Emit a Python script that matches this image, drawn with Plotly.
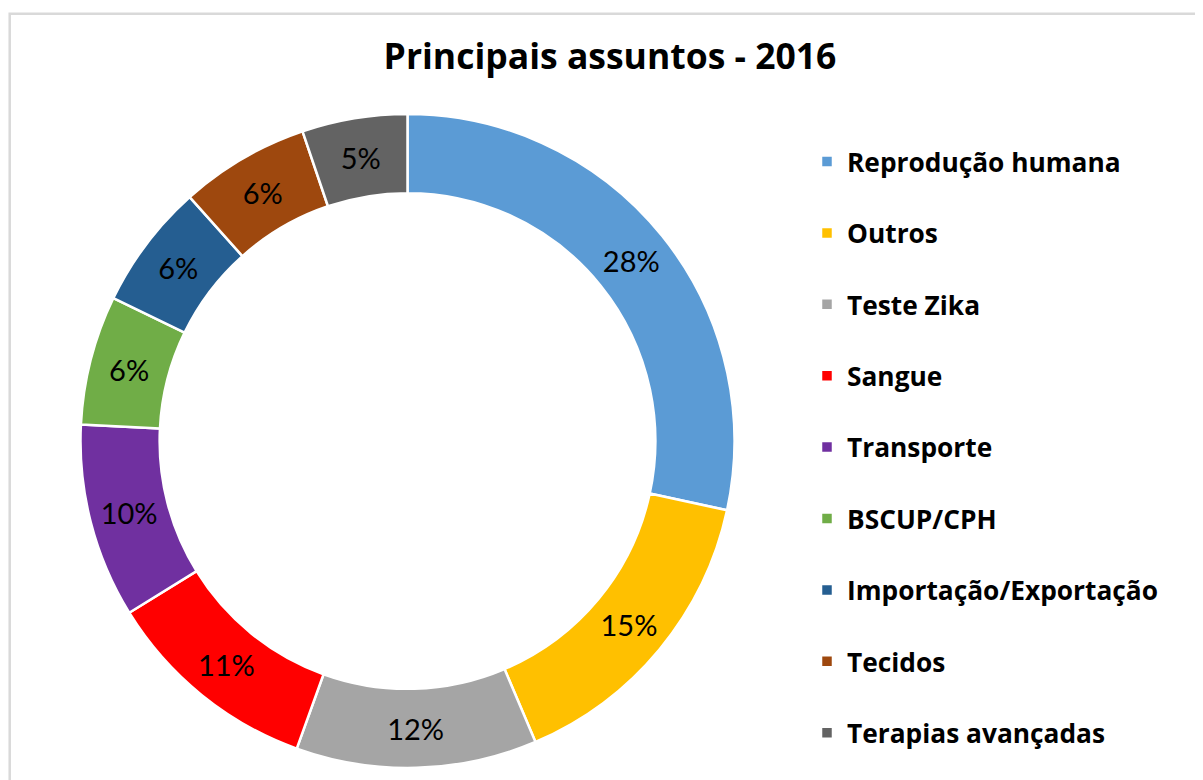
import plotly.graph_objects as go

categories = ["Reprodução humana", "Outros", "Teste Zika", "Sangue", "Transporte",
              "BSCUP/CPH", "Importação/Exportação", "Tecidos", "Terapias avançadas"]
shares = [28.4, 15.2, 11.9, 10.7, 9.6, 6.4, 6.2, 6.4, 5.2]
colors = ["#5B9BD5", "#FFC000", "#A5A5A5", "#FF0000", "#7030A0",
          "#70AD47", "#255E91", "#9E480E", "#636363"]
title_text = "Principais assuntos - 2016"

W, H = 1203, 780
cx, cy, R = 399.5, 433.0, 327.0

legend_labels = [c + "<br> " for c in categories]

fig = go.Figure(go.Pie(
    labels=legend_labels,
    values=shares,
    hole=0.758,
    sort=False,
    direction="clockwise",
    rotation=0,
    marker=dict(colors=colors, line=dict(color="white", width=2.5)),
    texttemplate="%{percent:.0%}",
    textposition="inside",
    insidetextorientation="horizontal",
    insidetextfont=dict(family="Lato", size=29, color="black"),
    domain=dict(x=[(cx - R) / W, (cx + R) / W],
                y=[1 - (cy + R) / H, 1 - (cy - R) / H]),
    hoverinfo="label+percent",
))

fig.update_layout(
    width=W, height=H,
    margin=dict(l=0, r=0, t=0, b=0, autoexpand=False),
    paper_bgcolor="white",
    plot_bgcolor="white",
    title=dict(text="<b>" + title_text + "</b>", x=602 / W, xanchor="center",
               y=1 - 49 / H, yanchor="middle",
               font=dict(family="Open Sans", size=35.5, color="black")),
    showlegend=True,
    legend=dict(
        x=799 / W, xanchor="left",
        y=1 - 130 / H, yanchor="top",
        font=dict(family="Open Sans", size=26.3, color="black", weight="bold"),
        valign="top",
        bgcolor="rgba(0,0,0,0)",
        traceorder="normal",
    ),
    shapes=[dict(type="rect", xref="paper", yref="paper",
                 x0=1.7 / W, x1=1.02, y0=-0.02, y1=1 - 5.7 / H,
                 line=dict(color="#D9D9D9", width=2.5), layer="below")],
)

fig.write_html("out.html")
